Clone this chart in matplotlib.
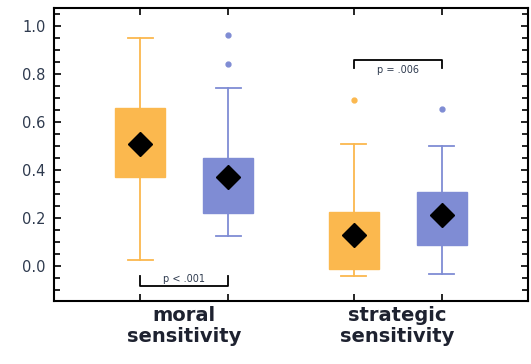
import matplotlib.pyplot as plt
from matplotlib.ticker import MultipleLocator

groups = ['moral\nsensitivity', 'strategic\nsensitivity']
series_colors = ['#FBB84E', '#7F8CD4']

# one entry per box: moral-orange, moral-blue, strategic-orange, strategic-blue
whislo = [0.025, 0.125, -0.042, -0.035]
q1 = [0.372, 0.222, -0.011, 0.088]
q3 = [0.660, 0.451, 0.226, 0.310]
whishi = [0.949, 0.740, 0.507, 0.500]
means = [0.508, 0.372, 0.129, 0.212]
fliers = [[], [0.962, 0.842], [0.692], [0.655]]

p_labels = ['p < .001', 'p = .006']

positions = [0.794, 1.206, 1.794, 2.206]
text_color = '#2F3B4F'

fig = plt.figure(figsize=(5.31, 3.64), dpi=100)
ax = fig.add_axes([0.102, 0.173, 0.892, 0.805])

stats = []
for i in range(4):
    stats.append({'whislo': whislo[i], 'q1': q1[i], 'med': means[i], 'q3': q3[i],
                  'whishi': whishi[i], 'mean': means[i], 'fliers': fliers[i]})

for i, st in enumerate(stats):
    c = series_colors[i % 2]
    ax.bxp([st], positions=[positions[i]], widths=0.234, patch_artist=True,
           showmeans=True, showfliers=True,
           boxprops=dict(facecolor=c, edgecolor=c, linewidth=1),
           whiskerprops=dict(color=c, linewidth=1.3),
           capprops=dict(color=c, linewidth=1.3),
           capwidths=0.117,
           medianprops=dict(linewidth=0),
           meanprops=dict(marker='D', markersize=12, markerfacecolor='black',
                          markeredgecolor='black'),
           flierprops=dict(marker='o', markersize=3.5, markerfacecolor=c,
                           markeredgecolor=c))

# significance brackets
def bracket(x0, x1, y_end, y_bar, label, ty):
    ax.plot([x0, x0, x1, x1], [y_end, y_bar, y_bar, y_end], color='black', lw=1.3)
    ax.text((x0 + x1) / 2, ty, label, ha='center', va='center', fontsize=7,
            color=text_color)

bracket(positions[0], positions[1], -0.04, -0.083, p_labels[0], -0.055)
bracket(positions[2], positions[3], 0.823, 0.858, p_labels[1], 0.818)

ax.set_xlim(0.39, 2.61)
ax.set_ylim(-0.146, 1.075)
ax.yaxis.set_minor_locator(MultipleLocator(0.05))
ax.set_yticks([0.0, 0.2, 0.4, 0.6, 0.8, 1.0])
ax.set_yticklabels(['0.0', '0.2', '0.4', '0.6', '0.8', '1.0'])
ax.set_xticks(positions)
ax.set_xticklabels([])
ax.tick_params(which='both', direction='in', top=True, right=True,
               width=1.2, color='black')
ax.tick_params(which='major', length=5)
ax.tick_params(which='minor', length=4)
ax.tick_params(axis='y', labelsize=10.5, labelcolor=text_color, pad=6)
for s in ax.spines.values():
    s.set_linewidth(1.5)

for g, label in enumerate(groups):
    ax.text((positions[2 * g] + positions[2 * g + 1]) / 2, -0.165, label,
            ha='center', va='top', fontsize=14, fontweight='bold',
            color='#1E2230', linespacing=1.15)

fig.savefig('out.png', dpi=100)
